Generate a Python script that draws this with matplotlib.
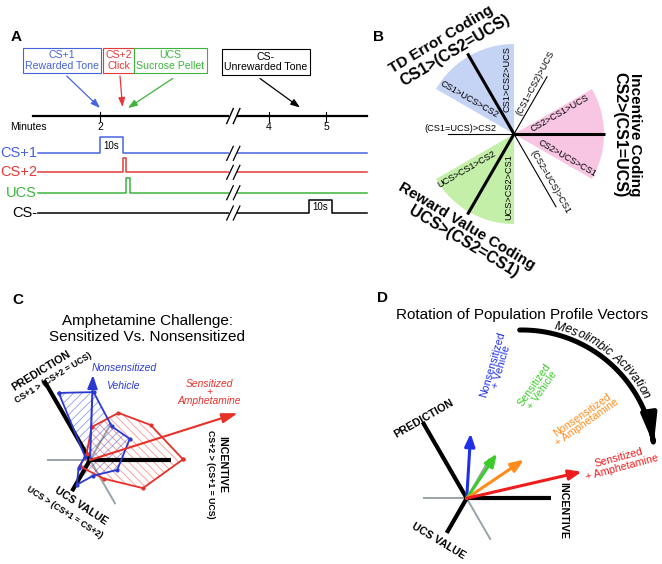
import numpy as np
import matplotlib
matplotlib.use("Agg")
import matplotlib.pyplot as plt
from matplotlib.patches import Polygon, Wedge, Rectangle, FancyArrowPatch
from matplotlib.path import Path
from matplotlib.font_manager import FontProperties

plt.rcParams['font.family'] = ['Liberation Sans', 'DejaVu Sans']
plt.rcParams['hatch.linewidth'] = 0.6

# ---------------- data ----------------
# panel A: stimuli (onset in s, duration in s)
stim_names = ['CS+1', 'CS+2', 'UCS', 'CS-']
stim_box_text = ['CS+1\nRewarded Tone', 'CS+2\nClick', 'UCS\nSucrose Pellet', 'CS-\nUnrewarded Tone']
stim_onset_s = [120, 130, 131.5, 282]
stim_duration_s = [10, 1.3, 1.4, 10]
minute_ticks = [2, 4, 5]
pulse_label = '10s'

# panel B: coding sectors
sector_span_deg = [(90, 150), (-30, 30), (210, 270)]
coding_axes_deg = [120, 0, 240]
tie_axes_deg = [60, 180, 300]
order_labels = ['CS1>CS2>UCS', 'CS1>UCS>CS2', 'CS2>CS1>UCS',
                'CS2>UCS>CS1', 'UCS>CS1>CS2', 'UCS>CS2>CS1']
tie_labels = ['(CS1=CS2)>UCS', '(CS1=UCS)>CS2', '(CS2=UCS)>CS1']

# panel C: population profiles (direction in deg, magnitude)
nonsens_vehicle_deg = [115, 87, 57, 28, -20, -78, 242, 215, 146]
nonsens_vehicle_r = [74, 68, 40, 45, 29, 16, 28, 14, 6]
sens_amph_deg = [0.4, 30, 59, 87, 120, 211, -54, -28]
sens_amph_r = [93, 70, 55, 33, 7, 12, 23, 60]
c_vector_deg = [88, 17.6]
c_vector_len = [85, 155]

# panel D: population profile vectors
d_groups = ['Nonsensitized\n+ Vehicle', 'Sensitized\n+ Vehicle',
            'Nonsensitized\n+ Amphetamine', 'Sensitized\n+ Amphetamine']
d_vector_deg = [86.5, 56, 34, 13]
d_vector_len = [65, 54, 69, 118]

# ---------------- figure ----------------
W, H = 662, 564
fig = plt.figure(figsize=(W / 100, H / 100), dpi=100)
ax = fig.add_axes([0, 0, 1, 1])
ax.set_xlim(0, W)
ax.set_ylim(H, 0)
ax.axis('off')


def pol(o, ang, r):
    a = np.deg2rad(ang)
    return o[0] + r * np.cos(a), o[1] - r * np.sin(a)


def label(x, y, s, size, rot=0, color='black', weight='normal', style='normal', **kw):
    ax.text(x, y, s, fontsize=size, rotation=rot, color=color, fontweight=weight,
            fontstyle=style, ha=kw.pop('ha', 'center'), va=kw.pop('va', 'center'),
            rotation_mode='anchor', **kw)


def arrow(p0, p1, color, lw, hl, hw, z=3):
    ax.annotate('', xy=p1, xytext=p0, zorder=z,
                arrowprops=dict(arrowstyle=f'-|>,head_length={hl},head_width={hw}',
                                lw=lw, color=color, shrinkA=0, shrinkB=0,
                                mutation_scale=10))


def brk(x, y, h=7.5, lw=1.0):
    ax.add_patch(Rectangle((x - 4, y - 2), 8, 4, fc='white', ec='none', zorder=4))
    for dx in (-3.3, 3.3):
        ax.plot([x + dx - 3.3, x + dx + 3.3], [y + h, y - h], color='black', lw=lw, zorder=5)


# ---------------- panel A ----------------
A_BLUE, A_RED, A_GREEN = '#4664dc', '#e3393a', '#3cb43c'
stim_colors = [A_BLUE, A_RED, A_GREEN, 'black']
PX_S = 2.3


def tx(t):
    if t < 180:
        return 100 + (t - 120) * PX_S
    return 269 + (t - 240) * 0.95


label(16, 37, 'A', 11, weight='bold')
box_cx = [62, 118.5, 170.5, 266]
box_cy = [60.5, 60.5, 60.5, 62]
for s, c, x, y in zip(stim_box_text, stim_colors, box_cx, box_cy):
    label(x, y, s, 7.6, color=c, linespacing=1.1,
          bbox=dict(boxstyle='square,pad=0.22', fc='white', ec=c, lw=0.8))

arrow_from = [(66.7, 76), (120, 76), (172.7, 78.5), (260, 78.5)]
arrow_to = [(tx(stim_onset_s[0]), 108), (tx(stim_onset_s[1]) - 0.5, 107),
            (tx(stim_onset_s[2]) + 1.5, 108), (300, 107.5)]
for p0, p1, c in zip(arrow_from, arrow_to, stim_colors):
    arrow(p0, p1, c, 0.9, 0.55, 0.2)

TL_Y = 116
ax.plot([33, 367], [TL_Y, TL_Y], color='black', lw=1.6, zorder=3)
brk(233.3, TL_Y)
for m in minute_ticks:
    x = tx(m * 60)
    ax.plot([x, x], [111.5, 120.5], color='black', lw=0.8)
    label(x, 127.5, str(m), 7.5)
label(28, 127.5, 'Minutes', 7.5)

row_y = [153.3, 172.3, 192.7, 213]
pulse_h = [16, 14.6, 14.7, 13]
for name, c, y, h, t0, d in zip(stim_names, stim_colors, row_y, pulse_h,
                                stim_onset_s, stim_duration_s):
    x0 = tx(t0)
    x1 = x0 + d * PX_S
    xs = [38, x0, x0, x1, x1, 367]
    ys = [y, y, y - h, y - h, y, y]
    ax.plot(xs, ys, color=c, lw=1.1, zorder=3)
    if d >= 10:
        label((x0 + x1) / 2, y - h / 2 + 0.5, pulse_label, 7)
    brk(233.3, y, h=7, lw=0.9)
    label(37, y, name, 10.5, color=c, ha='right')

# ---------------- panel B ----------------
OB = (514, 134)
sector_colors = ['#c5d4f5', '#f8c6e3', '#c3efa9']
label(378, 37, 'B', 11, weight='bold')
for (a0, a1), c in zip(sector_span_deg, sector_colors):
    ax.add_patch(Wedge(OB, 90, -a1, -a0, fc=c, ec='none', zorder=1))
for a, L in zip(coding_axes_deg, [93, 91, 93]):
    x, y = pol(OB, a, L)
    ax.plot([OB[0], x], [OB[1], y], color='black', lw=2.2, zorder=3, solid_capstyle='butt')
for a, L in zip(tie_axes_deg, [66, 66, 84]):
    x, y = pol(OB, a, L)
    ax.plot([OB[0], x], [OB[1], y], color='black', lw=0.8, zorder=3)

order_pos = [(97, 55), (142, 57), (25, 50), (-24.5, 58.6), (217, 59.5), (264, 53.6)]
order_rot = [90, -30, 30, -30, 30, 90]
for s, (a, r), rot in zip(order_labels, order_pos, order_rot):
    x, y = pol(OB, a, r)
    label(x, y, s, 6.6, rot=rot)
tie_pos = [(67.5, 55), (174, 54.3), (-53, 59.7)]
tie_rot = [62, 0, -60]
for s, (a, r), rot in zip(tie_labels, tie_pos, tie_rot):
    x, y = pol(OB, a, r)
    label(x, y, s, 6.6, rot=rot)

label(441, 39, 'TD Error Coding', 11, rot=31, weight='bold')
label(455, 50, 'CS1>(CS2=UCS)', 11.5, rot=31, weight='bold')
label(635, 135, 'Incentive Coding', 11, rot=-90, weight='bold')
label(620, 135, 'CS2>(CS1=UCS)', 11.5, rot=-90, weight='bold')
label(467, 226, 'Reward Value Coding', 11, rot=-31, weight='bold')
label(464, 242, 'UCS>(CS2=CS1)', 11.5, rot=-31, weight='bold')

# ---------------- panel C ----------------
OC = (90, 460)
GRAY = '#98a4a7'
C_BLUE, C_RED = '#2a3ad0', '#e8302a'
label(18, 300, 'C', 11, weight='bold')
label(147, 320.7, 'Amphetamine Challenge:', 11)
label(147, 336.7, 'Sensitized Vs. Nonsensitized', 11)

for a, L in zip(tie_axes_deg, [42, 42, 50]):
    x, y = pol(OC, a, L)
    ax.plot([OC[0], x], [OC[1], y], color=GRAY, lw=1.4, zorder=1)

for angs, rs, c, hatch in [(sens_amph_deg, sens_amph_r, C_RED, '\\\\\\\\'),
                           (nonsens_vehicle_deg, nonsens_vehicle_r, C_BLUE, '////')]:
    pts = [pol(OC, a, r) for a, r in zip(angs, rs)]
    ax.add_patch(Polygon(pts, closed=True, fill=False, hatch=hatch,
                         ec=matplotlib.colors.to_rgba(c, 0.5), lw=0, zorder=2))

for a, L in zip(coding_axes_deg, [92, 81, 36]):
    x, y = pol(OC, a, L)
    ax.plot([OC[0], x], [OC[1], y], color='black', lw=3, zorder=3, solid_capstyle='butt')

for angs, rs, c in [(sens_amph_deg, sens_amph_r, C_RED),
                    (nonsens_vehicle_deg, nonsens_vehicle_r, C_BLUE)]:
    pts = np.array([pol(OC, a, r) for a, r in zip(angs, rs)] +
                   [pol(OC, angs[0], rs[0])])
    ax.plot(pts[:, 0], pts[:, 1], color=c, lw=1.3, marker='o', ms=2, zorder=4)

for a, L, c, hl in zip(c_vector_deg, c_vector_len, [C_BLUE, C_RED], [0.8, 0.95]):
    arrow(OC, pol(OC, a, L), c, 1.5, hl, 0.3, z=5)

label(41.7, 370.7, 'PREDICTION', 7.8, rot=31.7, weight='bold')
label(53.5, 377.5, 'CS+1 > (CS+2 = UCS)', 6.3, rot=31.7, weight='bold')
label(124, 368, 'Nonsensitized', 7.5, color=C_BLUE, style='italic')
label(123, 386, 'Vehicle', 7.5, color=C_BLUE, style='italic')
label(209.3, 392.4, 'Sensitized\n+\nAmphetamine', 7.4, color=C_RED, style='italic',
      linespacing=0.85)
label(222.7, 465, 'INCENTIVE', 7.7, rot=-90, weight='bold')
label(210.7, 474, 'CS+2 > (CS+1 = UCS)', 6.3, rot=-90, weight='bold')
label(80.8, 506, 'UCS VALUE', 7.7, rot=-33, weight='bold')
label(65, 512, 'UCS > (CS+1 = CS+2)', 6.3, rot=-33, weight='bold')

# ---------------- panel D ----------------
OD = (466.7, 498.3)
d_colors = ['#1f30e6', '#3ccb2a', '#ff8c1a', '#ee1c1c']
label(382, 298, 'D', 11, weight='bold')
label(522.5, 315, 'Rotation of Population Profile Vectors', 11)

for a, L in zip(tie_axes_deg, [45, 43, 47]):
    x, y = pol(OD, a, L)
    ax.plot([OD[0], x], [OD[1], y], color=GRAY, lw=1.4, zorder=1)
for a, L in zip(coding_axes_deg, [88, 84, 40]):
    x, y = pol(OD, a, L)
    ax.plot([OD[0], x], [OD[1], y], color='black', lw=3, zorder=3, solid_capstyle='butt')
for a, L, c in zip(d_vector_deg, d_vector_len, d_colors):
    arrow(OD, pol(OD, a, L), c, 2.2, 0.75, 0.3, z=4)

d_label_xy = [(497, 366), (538, 387.5), (584.5, 418.7), (620.4, 462.5)]
d_rot = [74, 55, 35, 15]
for g, c, p, rot in zip(d_groups, d_colors, d_label_xy, d_rot):
    label(p[0], p[1], g, 7.7, rot=rot, color=c, linespacing=0.95, multialignment='center')

label(424, 418.3, 'PREDICTION', 7.8, rot=30, weight='bold')
label(563.3, 510, 'INCENTIVE', 7.7, rot=-90, weight='bold')
label(438.3, 540.8, 'UCS VALUE', 7.7, rot=-31, weight='bold')

# curved "Mesolimbic Activation" arrow
ARC_C, ARC_R = (522, 463), 133
th = np.linspace(91, 8, 80)
verts = [pol(ARC_C, t, ARC_R) for t in th]
ax.add_patch(FancyArrowPatch(path=Path(verts), arrowstyle='-|>,head_length=1.7,head_width=0.45',
                             mutation_scale=10, lw=3.6, color='black', zorder=4))

fp = FontProperties(family=['Liberation Sans'], size=8.8, style='italic')
renderer = fig.canvas.get_renderer()
arc_text = 'Mesolimbic Activation'
widths = []
for ch in arc_text:
    if ch == ' ':
        widths.append(0.28 * 8.8 * 100 / 72)
    else:
        widths.append(renderer.get_text_width_height_descent(ch, fp, ismath=False)[0])
rb = ARC_R + 5
total = sum(widths)
start = 52 + np.rad2deg(total / 2 / rb)
cum = 0
for ch, w in zip(arc_text, widths):
    a = start - np.rad2deg((cum + w / 2) / rb)
    x, y = pol(ARC_C, a, rb)
    ax.text(x, y, ch, fontproperties=fp, rotation=a - 90, ha='center', va='baseline',
            rotation_mode='anchor')
    cum += w

fig.savefig('out.png', dpi=100)
